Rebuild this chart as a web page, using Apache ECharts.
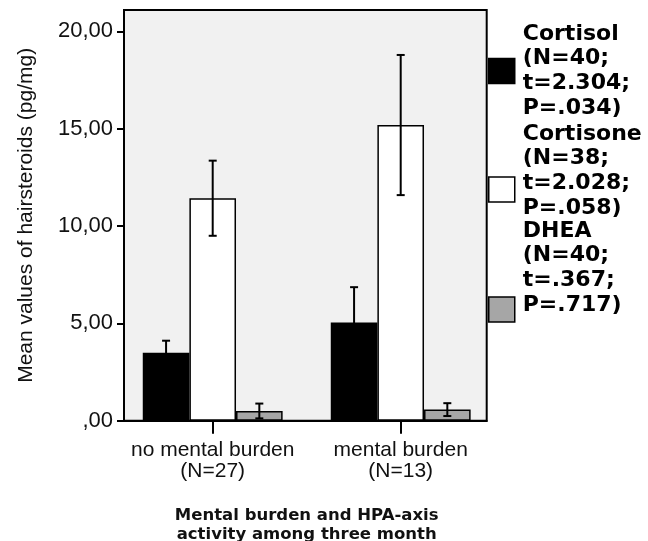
<!DOCTYPE html>
<html>
<head>
<meta charset="utf-8">
<script src="https://cdn.jsdelivr.net/npm/echarts@6/dist/echarts.min.js"></script>
<style>html,body{margin:0;padding:0;background:#fff;}#c{width:648px;height:541px;}</style>
</head>
<body>
<div id="c"></div>
<script>
// ---- data ----
const categories = ['no mental burden\n(N=27)', 'mental burden\n(N=13)'];
const seriesNames = ['Cortisol', 'Cortisone', 'DHEA'];
const cortisol = [3.49, 5.05];
const cortisolErr = [0.62, 1.81];
const cortisone = [11.43, 15.19];
const cortisoneErr = [1.93, 3.60];
const dhea = [0.50, 0.57];
const dheaErr = [0.38, 0.33];
const yTicks = [0, 5, 10, 15, 20];
const legendTexts = [
  'Cortisol\n(N=40;\nt=2.304;\nP=.034)',
  'Cortisone\n(N=38;\nt=2.028;\nP=.058)',
  'DHEA\n(N=40;\nt=.367;\nP=.717)'
];
const yName = 'Mean values of hairsteroids (pg/mg)';
const xName = 'Mental burden and HPA-axis\nactivity among three month';

// ---- styling ----
const BAR_FRAC = 0.248;
const Y_MAX = 21.1;
const colors = ['#000000', '#ffffff', '#a6a6a6'];
const values = [cortisol, cortisone, dhea];
const errs = [cortisolErr, cortisoneErr, dheaErr];

function fmtY(v) {
  if (v === 0) return ',00';
  return v.toFixed(2).replace('.', ',');
}

function errRender(sIdx) {
  return function (params, api) {
    const x = api.value(0), y = api.value(1), e = api.value(2);
    const bw = api.size([1, 0])[0] * BAR_FRAC;
    const c = api.coord([x, y]);
    const cx = c[0] + (sIdx - 1) * bw;
    const top = api.coord([x, y + e])[1];
    const bot = api.coord([x, y - e])[1];
    const cap = 4;
    const st = { stroke: '#000', lineWidth: 2 };
    return {
      type: 'group',
      children: [
        { type: 'line', shape: { x1: cx, y1: top, x2: cx, y2: bot }, style: st },
        { type: 'line', shape: { x1: cx - cap, y1: top, x2: cx + cap, y2: top }, style: st },
        { type: 'line', shape: { x1: cx - cap, y1: bot, x2: cx + cap, y2: bot }, style: st }
      ]
    };
  };
}

const series = [];
seriesNames.forEach(function (name, i) {
  series.push({
    name: name,
    type: 'bar',
    xAxisIndex: 1,
    yAxisIndex: 1,
    data: values[i],
    barWidth: (BAR_FRAC * 100) + '%',
    barGap: '0%',
    itemStyle: { color: colors[i], borderColor: '#000', borderWidth: 1.5 },
    z: 3
  });
});
seriesNames.forEach(function (name, i) {
  series.push({
    name: name + ' error',
    type: 'custom',
    xAxisIndex: 1,
    yAxisIndex: 1,
    renderItem: errRender(i),
    encode: { x: 0, y: 1 },
    data: values[i].map(function (v, k) { return [k, v, errs[i][k]]; }),
    z: 5,
    silent: true
  });
});

const legendTops = [21.5, 121.5, 218.5];
const legendSpacers = ['', '\n{s1| }', '\n{s2| }'];
const legends = seriesNames.map(function (name, i) {
  return {
    data: [{ name: name, itemStyle: { color: colors[i], borderColor: '#000', borderWidth: 1.5 } }],
    orient: 'vertical',
    left: 488,
    top: legendTops[i],
    padding: 0,
    itemWidth: 26,
    itemHeight: 25,
    icon: 'rect',
    selectedMode: false,
    formatter: function () { return legendTexts[i] + legendSpacers[i]; },
    textStyle: {
      fontFamily: 'DejaVu Sans',
      fontWeight: 'bold',
      fontSize: 22,
      lineHeight: 24.7,
      color: '#000',
      padding: [0, 0, 0, 3],
      rich: {
        s1: { fontSize: 2, lineHeight: 37.2 },
        s2: { fontSize: 2, lineHeight: 83.2 }
      }
    }
  };
});

const option = {
  animation: false,
  backgroundColor: '#ffffff',
  legend: legends,
  grid: [
    { left: 124, right: 161.3, top: 10, bottom: 120.3, show: true, outerBoundsMode: 'none', containLabel: false,
      backgroundColor: '#f1f1f1', borderColor: '#000', borderWidth: 2 },
    { left: 118.7, right: 153.3, top: 10, bottom: 120.3, outerBoundsMode: 'none', containLabel: false }
  ],
  xAxis: [
    { gridIndex: 0, type: 'value', min: 0, max: 1, z: 6,
      axisLine: { show: true, lineStyle: { color: '#000', width: 2 } },
      axisTick: { show: false }, axisLabel: { show: false }, splitLine: { show: false } },
    { gridIndex: 1, type: 'category', data: categories,
      axisLine: { show: false },
      axisTick: { show: true, alignWithLabel: true, length: 13, lineStyle: { color: '#000', width: 2 } },
      axisLabel: { interval: 0, hideOverlap: false, margin: 19, fontFamily: 'Liberation Sans', fontSize: 21, lineHeight: 21, color: '#111' },
      name: xName, nameLocation: 'middle', nameGap: 86,
      nameTextStyle: { fontFamily: 'DejaVu Sans', fontWeight: 'bold', fontSize: 16.5, lineHeight: 18.5, color: '#111' } }
  ],
  yAxis: [
    { gridIndex: 0, type: 'value', min: 0, max: Y_MAX, interval: 5, z: 6,
      axisLine: { show: true, lineStyle: { color: '#000', width: 2 } },
      axisTick: { show: true, length: 7, customValues: yTicks, lineStyle: { color: '#000', width: 2 } },
      axisLabel: { customValues: yTicks, margin: 11, formatter: fmtY,
        fontFamily: 'Liberation Sans', fontSize: 22, color: '#111' },
      splitLine: { show: false },
      name: yName, nameLocation: 'middle', nameGap: 87,
      nameTextStyle: { fontFamily: 'Liberation Sans', fontSize: 21, color: '#111' } },
    { gridIndex: 1, type: 'value', min: 0, max: Y_MAX, interval: 5, show: false }
  ],
  series: series
};

const chart = echarts.init(document.getElementById('c'));
chart.setOption(option);
</script>
</body>
</html>
